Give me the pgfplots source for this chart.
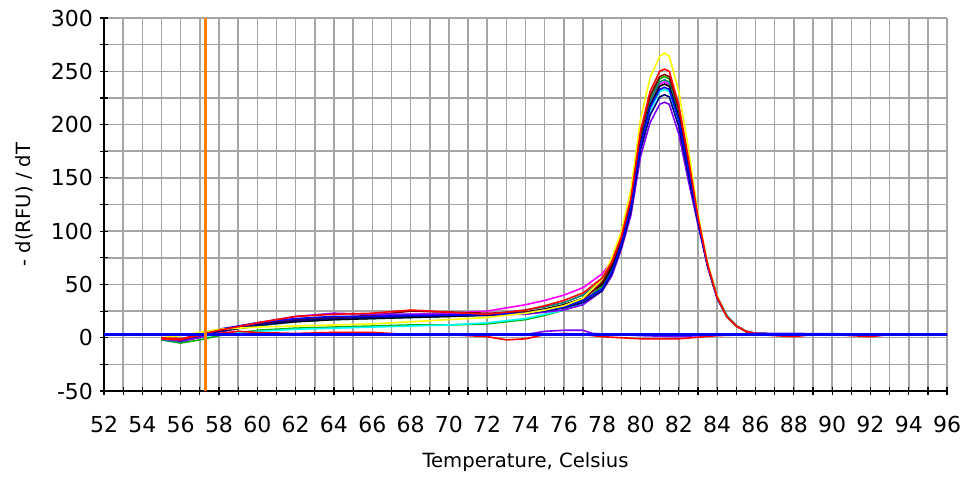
\documentclass[border=0pt]{standalone}
\usepackage{fontspec}
\setmainfont{DejaVu Sans}
\usepackage{pgfplots}
\usepackage{pgfplotstable}
\pgfplotsset{compat=1.18}
\definecolor{gridgray}{RGB}{165,165,165}
\definecolor{cYel}{RGB}{255,255,0}
\definecolor{cRed}{RGB}{255,0,0}
\definecolor{cMag}{RGB}{255,0,255}
\definecolor{cGrn}{RGB}{0,176,0}
\definecolor{cBlu}{RGB}{0,0,255}
\definecolor{cPur}{RGB}{128,0,255}
\definecolor{cMar}{RGB}{128,0,0}
\definecolor{cTea}{RGB}{0,128,128}
\definecolor{cCya}{RGB}{0,255,255}
\definecolor{cNav}{RGB}{0,0,128}
\definecolor{cOrg}{RGB}{255,128,0}

\pgfplotstableread{
x     yel red mag grn blu pur mar tea cya nav blk
55    0   -1  0   -2  0   -1  0   -2  -1  0   0
56    2   -2  -4  -5  -2  -3  -1  -4  -3  -2  -3
57    5   3   1   -2  2   0   3   1   1   2   1
58    8   7   5   2   8   6   7   6   3   6   6
60    10  14  12  7   14  14  13  11  6   12  12
62    11  20  16  9   18  20  17  15  8   16  15
64    12  22  19  10  20  23  19  17  9   18  17
66    13  23  20  11  20  22  21  18  10  19  18
68    15  26  22  12  21  22  25  19  11  20  19
70    17  24  23  12  21  22  24  20  12  21  20
72    19  22  25  13  22  22  23  22  14  21  21
74    23  26  31  17  23  22  24  26  18  23  24
75    26  30  35  21  26  24  26  29  22  25  27
76    30  35  40  26  29  26  30  33  26  28  31
77    37  42  47  34  35  31  36  40  32  33  37
78    55  56  60  48  46  44  52  54  45  44  50
78.5  75  71  72  65  62  58  69  68  62  60  66
79    100 95  90  92  88  83  93  91  87  85  89
79.5  139 131 125 128 123 115 129 126 121 119 124
80    205 194 185 189 181 170 191 187 179 176 183
80.5  244 231 220 224 216 202 227 222 213 209 218
81    264 250 238 243 233 219 245 240 231 226 236
81.25 267 252 240 245 235 221 247 242 233 228 238
81.5  264 250 238 243 233 219 245 240 231 226 236
82    231 218 208 212 204 191 214 210 202 198 206
82.5  178 168 160 163 157 147 165 162 155 152 158
83    116 113 110 111 110 106 112 111 110 108 109
83.5  70  69  68  68  68  67  68  69  69  68  67
84    39  38  38  38  38  37  38  39  39  38  37
84.5  20  20  20  21  20  20  20  21  21  20  20
85    11  11  11  11  11  11  11  11  11  11  11
85.5  6   6   6   6   6   6   6   6   6   6   6
86    4   4   4   4   4   4   4   4   4   4   4
88    3   3   3   3   3   3   3   3   3   3   3
90    3   3   3   3   3   3   3   3   3   3   3
92    3   3   3   3   3   3   3   3   3   3   3
94    3   3   3   3   3   3   3   3   3   3   3
96    3   3   3   3   3   3   3   3   3   3   3
}\peaks

\begin{document}
\begin{tikzpicture}
\begin{axis}[
  scale only axis, width=421.5pt, height=186.5pt,
  xmin=52, xmax=96, ymin=-50, ymax=300,
  axis x line=bottom, axis y line=left,
  axis line style={-, line width=1pt, black},
  xtick={52,54,...,96}, minor x tick num=1,
  ytick={-50,0,...,300}, minor y tick num=1,
  tick align=center, major tick length=4pt, minor tick length=4pt,
  tick style={black, line width=0.6pt},
  grid=both,
  major grid style={color=gridgray, line width=0.75pt},
  minor grid style={color=gridgray, line width=0.75pt},
  /pgf/number format/assume math mode=true,
  tick label style={font=\fontsize{11}{13}\selectfont},
  xticklabel style={yshift=-7pt},
  label style={font=\fontsize{9.8}{11}\selectfont},
  xlabel={Temperature, Celsius},
  ylabel={- d(RFU) / dT},
  xlabel style={at={(axis description cs:0.5,-0.19)}, anchor=center},
  ylabel style={at={(axis description cs:-0.095,0.5)}, anchor=center},
  clip=false,
  every axis plot/.append style={line width=0.8pt},
]
\addplot[cMag] table[x=x,y=mag]{\peaks};
\addplot[cGrn] table[x=x,y=grn]{\peaks};
\addplot[cTea] table[x=x,y=tea]{\peaks};
\addplot[cCya] table[x=x,y=cya]{\peaks};
\addplot[black] table[x=x,y=blk]{\peaks};
\addplot[cMar] table[x=x,y=mar]{\peaks};
\addplot[cPur] table[x=x,y=pur]{\peaks};
\addplot[cNav] table[x=x,y=nav]{\peaks};
\addplot[cBlu] table[x=x,y=blu]{\peaks};
\addplot[cYel] table[x=x,y=yel]{\peaks};
\addplot[cRed] table[x=x,y=red]{\peaks};
\addplot[cRed] coordinates {(55,0) (56,-1) (57,2) (58,4) (59,6) (60,5) (62,4) (64,5) (66,5) (68,3) (70,3) (72,1) (73,-2) (74,-1) (75,3) (76,4) (77,3) (78,1) (80,-1) (82,-1) (84,2) (86,3) (88,1) (89,3) (90,3) (91,2) (92,1) (93,3) (96,3)};
\addplot[cPur] coordinates {(52,3) (74,3) (75,6) (76,7) (77,7) (77.5,4) (80,2) (82,1) (84,3) (86,4) (88,4) (96,3)};
\addplot[cBlu, line width=1.6pt] coordinates {(52,3) (96,3)};
\addplot[cOrg, line width=1.3pt] coordinates {(57.3,-50) (57.3,300)};
\coordinate (bl) at (axis cs:46.57,-135.4);
\coordinate (tr) at (axis cs:96.83,316.9);
\end{axis}
\pgfresetboundingbox
\path[use as bounding box] (bl) rectangle (tr);
\end{tikzpicture}
\end{document}
